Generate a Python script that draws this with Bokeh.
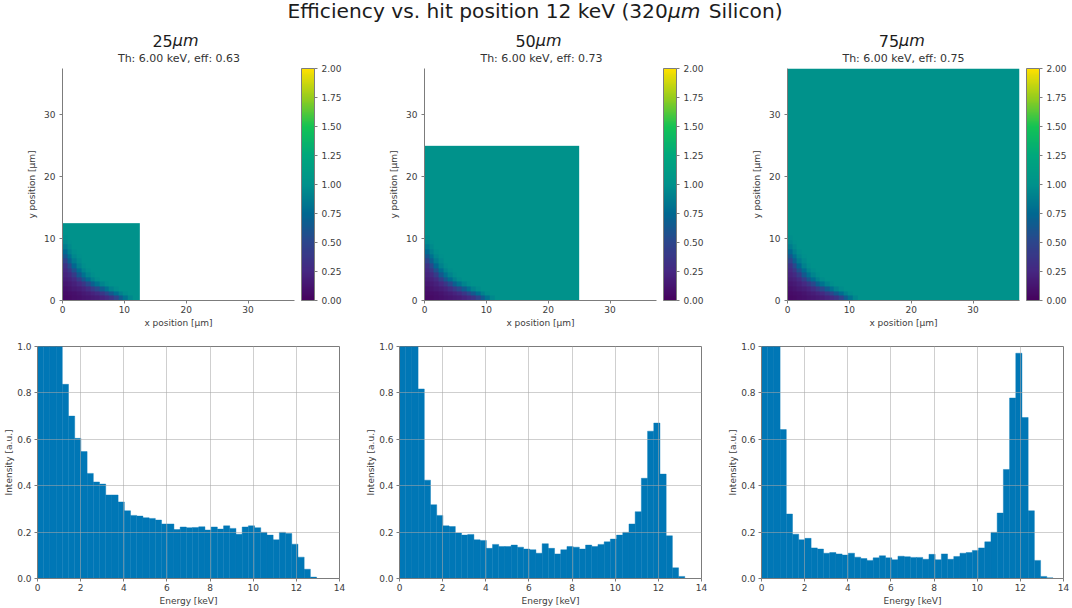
from bokeh.embed import file_html
from bokeh.layouts import column, row
from bokeh.models import ColorBar, FixedTicker, Label, LinearColorMapper, PrintfTickFormatter, Range1d
from bokeh.plotting import figure
from bokeh.resources import INLINE
import numpy as np

pitches = ["25", "50", "75"]
half_pitch = [12.5, 25.0, 37.5]
efficiencies = ["0.63", "0.73", "0.75"]
threshold = "6.00"

corner_eff = [
    [.05, .06, .08, .10, .12, .14, .16, .18, .22, .27, .35, .48, .65, .82, .94, 1],
    [.07, .08, .10, .12, .15, .18, .22, .28, .38, .50, .64, .78, .90, .97, 1, 1],
    [.10, .12, .15, .18, .22, .30, .40, .52, .66, .80, .91, .97, 1, 1, 1, 1],
    [.14, .16, .20, .26, .37, .52, .68, .82, .92, .98, 1, 1, 1, 1, 1, 1],
    [.18, .21, .28, .43, .62, .78, .90, .97, 1, 1, 1, 1, 1, 1, 1, 1],
    [.22, .28, .42, .64, .80, .92, .98, 1, 1, 1, 1, 1, 1, 1, 1, 1],
    [.26, .38, .58, .78, .92, .98, 1, 1, 1, 1, 1, 1, 1, 1, 1, 1],
    [.34, .52, .74, .90, .98, 1, 1, 1, 1, 1, 1, 1, 1, 1, 1, 1],
    [.48, .68, .86, .96, 1, 1, 1, 1, 1, 1, 1, 1, 1, 1, 1, 1],
    [.62, .80, .93, .99, 1, 1, 1, 1, 1, 1, 1, 1, 1, 1, 1, 1],
    [.76, .90, .98, 1, 1, 1, 1, 1, 1, 1, 1, 1, 1, 1, 1, 1],
    [.87, .96, 1, 1, 1, 1, 1, 1, 1, 1, 1, 1, 1, 1, 1, 1],
    [.94, .99, 1, 1, 1, 1, 1, 1, 1, 1, 1, 1, 1, 1, 1, 1],
    [.98, 1, 1, 1, 1, 1, 1, 1, 1, 1, 1, 1, 1, 1, 1, 1],
    [1, 1, 1, 1, 1, 1, 1, 1, 1, 1, 1, 1, 1, 1, 1, 1],
    [1, 1, 1, 1, 1, 1, 1, 1, 1, 1, 1, 1, 1, 1, 1, 1],
]
corner_size = 12.0
plateau = [[1.0]]

bin_width = 0.2875
# first bins run off the top of the axis, they are kept at 1.0
hist_25 = [1, 1, 1, 1, .837, .70, .604, .547, .453, .416, .407, .36, .36, .33, .292,
           .272, .269, .262, .259, .252, .235, .235, .211, .222, .219, .22, .223, .209,
           .222, .213, .227, .216, .191, .222, .227, .219, .199, .187, .167, .199, .194,
           .148, .092, .04, .006]
hist_50 = [1, 1, 1, .817, .424, .318, .272, .227, .224, .196, .187, .19, .167, .164, .13,
           .147, .138, .138, .144, .135, .127, .124, .109, .15, .13, .106, .124, .138,
           .135, .127, .144, .138, .147, .158, .17, .187, .199, .235, .288, .432, .635,
           .67, .45, .184, .046, .009]
hist_75 = [1, 1, 1, .642, .278, .191, .167, .173, .132, .127, .109, .112, .106, .101, .109,
           .092, .086, .078, .089, .098, .089, .081, .096, .094, .091, .091, .083, .104,
           .081, .106, .083, .095, .109, .112, .121, .132, .158, .199, .282, .47, .778,
           .971, .694, .292, .078, .009, .003]

cbar_ticks = [0, 0.25, 0.5, 0.75, 1.0, 1.25, 1.5, 1.75, 2.0]
map_ticks = [0, 10, 20, 30]
energy_ticks = [0, 2, 4, 6, 8, 10, 12, 14]
intensity_ticks = [0, 0.2, 0.4, 0.6, 0.8, 1.0]

# colours of the reference colour bar at each of its ticks
cbar_colors = [(71, 3, 94), (70, 40, 130), (45, 70, 140), (0, 105, 145), (0, 146, 140),
               (0, 168, 125), (20, 195, 85), (150, 205, 30), (255, 225, 0)]

FONT = "DejaVu Sans"
TEXT = "#3c3c3c"
SPINE = "#7c7c7c"
BAR = "#0077b6"
GRID = "#a8a8a8"

palette = []
for v in np.linspace(0, 2, 256):
    rgb = [int(np.interp(v, cbar_ticks, [c[k] for c in cbar_colors])) for k in range(3)]
    palette.append("#%02x%02x%02x" % tuple(rgb))


def style_axes(p, xticks, yticks):
    for ax in [p.xaxis[0], p.yaxis[0]]:
        ax.major_label_text_font = FONT
        ax.major_label_text_font_size = "9px"
        ax.major_label_text_color = TEXT
        ax.major_label_standoff = 4
        ax.axis_label_text_font = FONT
        ax.axis_label_text_font_size = "9px"
        ax.axis_label_text_font_style = "normal"
        ax.axis_label_text_color = TEXT
        ax.axis_label_standoff = 4
        ax.axis_line_color = SPINE
        ax.major_tick_line_color = SPINE
        ax.major_tick_in = 0
        ax.major_tick_out = 3
        ax.minor_tick_line_color = None
    p.xaxis[0].major_label_standoff = 2
    p.xaxis[0].axis_label_standoff = 2
    p.xaxis[0].ticker = FixedTicker(ticks=xticks)
    p.yaxis[0].ticker = FixedTicker(ticks=yticks)


def label(p, x, y, text, size, align="left", style="normal", color="#1c1c1c"):
    p.add_layout(Label(x=x, y=y, x_units="screen", y_units="screen", text=text,
                       text_font=FONT, text_font_size=size, text_font_style=style,
                       text_color=color, text_align=align, text_baseline="alphabetic"))


def map_panel(i, width, left, right):
    p = figure(width=width, height=271, x_range=Range1d(0, 37.5), y_range=Range1d(0, 37.5),
               output_backend="svg", toolbar_location=None,
               x_axis_label="x position [μm]", y_axis_label="y position [μm]",
               min_border_left=left, min_border_right=right, min_border_top=4, min_border_bottom=35)
    mapper = LinearColorMapper(palette=palette, low=0, high=2)
    p.image(image=[np.array(plateau)], x=0, y=0, dw=half_pitch[i], dh=half_pitch[i], color_mapper=mapper)
    p.image(image=[np.array(corner_eff, dtype=float)], x=0, y=0, dw=corner_size, dh=corner_size, color_mapper=mapper)
    p.grid.visible = False
    p.outline_line_color = None
    style_axes(p, map_ticks, map_ticks)

    bar = ColorBar(color_mapper=mapper, ticker=FixedTicker(ticks=cbar_ticks),
                   formatter=PrintfTickFormatter(format="%.2f"), width=13, padding=0, margin=0,
                   location=(7, 0), major_label_text_font=FONT, major_label_text_font_size="9px",
                   major_label_text_color=TEXT, major_tick_in=0, major_tick_out=3,
                   major_tick_line_color=SPINE, minor_tick_line_color=None,
                   bar_line_color=SPINE, label_standoff=4)
    p.add_layout(bar, "right")
    return p


def hist_panel(values, width, left, right):
    p = figure(width=width, height=273, x_range=Range1d(0, 14), y_range=Range1d(0, 1),
               output_backend="svg", toolbar_location=None,
               x_axis_label="Energy [keV]", y_axis_label="Intensity [a.u.]",
               min_border_left=left, min_border_right=right, min_border_top=11, min_border_bottom=30)
    edges = np.arange(len(values) + 1) * bin_width
    p.quad(left=edges[:-1], right=edges[1:], top=values, bottom=0, fill_color=BAR, line_color=BAR, line_width=0.4)
    p.grid.grid_line_color = GRID
    p.grid.grid_line_alpha = 0.55
    p.grid.grid_line_width = 1
    p.grid.level = "overlay"
    p.outline_line_color = SPINE
    style_axes(p, energy_ticks, intensity_ticks)
    p.yaxis[0].major_label_standoff = 3
    p.yaxis[0].axis_label_standoff = 0
    p.yaxis[0].formatter = PrintfTickFormatter(format="%.1f")
    return p


strip = figure(width=1072, height=64, x_range=Range1d(0, 1), y_range=Range1d(0, 1),
               output_backend="svg", toolbar_location=None,
               min_border_left=0, min_border_right=0, min_border_top=0, min_border_bottom=0)
strip.axis.visible = False
strip.grid.visible = False
strip.outline_line_color = None
label(strip, 667.3, 54, "Efficiency vs. hit position 12 keV (320", "20.2px", align="right")
label(strip, 667.5, 54, "μm", "20.2px", style="italic")
label(strip, 708.3, 54, "Silicon)", "20.2px")
for i, (split, center) in enumerate([(172.3, 178.5), (535.3, 541.0), (898.6, 903.0)]):
    label(strip, split, 24, pitches[i], "16px", align="right")
    label(strip, split, 24, "μm", "16px", style="italic")
    label(strip, center, 6, f"Th: {threshold} keV, eff: {efficiencies[i]}", "11px", align="center", color="#333333")

top = row(map_panel(0, 360, 62, 66),
          map_panel(1, 362, 64, 66),
          map_panel(2, 350, 65, 53), spacing=0)
bottom = row(hist_panel(hist_25, 360, 37, 21),
             hist_panel(hist_50, 360, 39, 19),
             hist_panel(hist_75, 352, 41, 9), spacing=0)

page = column(strip, top, bottom, spacing=0)
open("out.html", "w").write(file_html(page, INLINE))
